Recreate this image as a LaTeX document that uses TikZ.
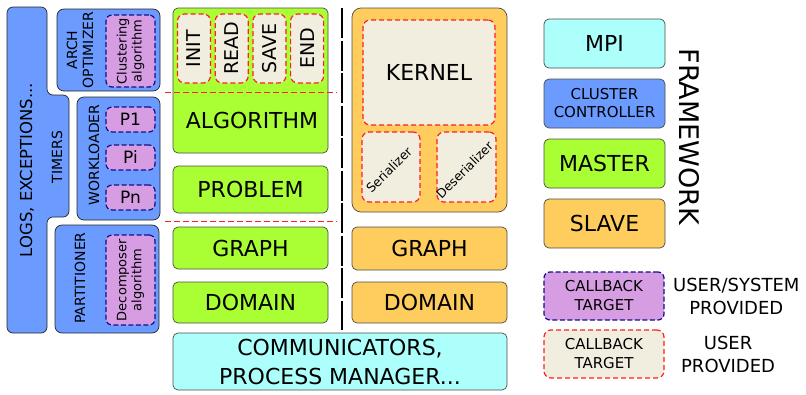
\documentclass[tikz,border=0pt]{standalone}
\usepackage{fontspec}
\setmainfont{DejaVu Sans}
\usetikzlibrary{positioning,calc}
\definecolor{toolblue}{HTML}{6B9BFF}
\definecolor{sysviolet}{HTML}{D79DE3}
\definecolor{mastergreen}{HTML}{A9FF33}
\definecolor{slaveorange}{HTML}{FFCC5E}
\definecolor{commcyan}{HTML}{ADFFFB}
\definecolor{userbeige}{HTML}{F1EEE0}
\definecolor{cbred}{HTML}{FF2020}
\definecolor{cbnavy}{HTML}{10108A}
\newcommand{\fs}[2]{\fontsize{#1}{#2}\selectfont}

\begin{document}
\begin{tikzpicture}[
  x=1pt,y=-1pt,
  node distance=11pt,
  layer/.style={draw=black!70,line width=0.7pt,rounded corners=5pt,
                inner sep=0pt,outer sep=0pt,align=center,font=\fs{22}{29}},
  green/.style={layer,fill=mastergreen,minimum width=155pt,minimum height=#1},
  orange/.style={layer,fill=slaveorange,minimum width=155pt,minimum height=#1},
  frame/.style={layer,minimum width=121pt,minimum height=49pt},
  tool/.style={draw=black!85,line width=0.7pt,fill=toolblue,rounded corners=7pt,
               inner sep=0pt,outer sep=0pt},
  syscb/.style={draw=cbnavy,line width=1.2pt,dash pattern=on 5pt off 2.5pt,
                fill=sysviolet,rounded corners=6pt,inner sep=0pt,align=center},
  usercb/.style={draw=cbred,line width=1.2pt,dash pattern=on 5pt off 3pt,
                 fill=userbeige,rounded corners=7pt,inner sep=0pt,align=center},
  vlabel/.style={rotate=90,align=center,inner sep=0pt,font=\fs{14}{16}}
]
  \useasboundingbox (0,0) rectangle (806,394);

  % tools column on the left
  \draw[draw=black!85,line width=0.7pt,fill=toolblue,rounded corners=6pt]
    (7,7) -- (47,7) -- (47,95) -- (69,95) -- (69,217) -- (47,217)
    -- (47,333) -- (7,333) -- cycle;
  \node[vlabel,font=\fs{16.5}{19}] (logs) at (27,170) {LOGS, EXCEPTIONS...};
  \node[vlabel] (timers) at (57,157) {TIMERS};

  \node[tool,minimum width=103pt,minimum height=82pt] (arch) at (108.5,50) {};
  \node[vlabel] (archtxt) at (80,50) {ARCH\\OPTIMIZER};
  \node[syscb,minimum width=49pt,minimum height=72pt] (clus) at (130.5,51) {};
  \node[vlabel,font=\fs{13}{15}] at (clus) {Clustering\\algorithm};

  \node[tool,minimum width=83pt,minimum height=123pt] (work) at (118.5,158.5) {};
  \node[vlabel] (worktxt) at (94,155) {WORKLOADER};
  \foreach \p/\y in {P1/119.5,Pi/157.5,Pn/197.5}
    \node[syscb,minimum width=49pt,minimum height=25pt,font=\fs{17}{20}]
      (w\p) at (130.5,\y) {\p};

  \node[tool,minimum width=104pt,minimum height=108pt] (part) at (107,279) {};
  \node[vlabel] (parttxt) at (80,278) {PARTITIONER};
  \node[syscb,minimum width=49pt,minimum height=90pt] (decomp) at (130.5,280) {};
  \node[vlabel,font=\fs{13}{15}] at (decomp) {Decomposer\\algorithm};

  % master side
  \node[green=145pt] (alg) at (250.5,80.5) {};
  \foreach \n [count=\i] in {INIT,READ,SAVE,END} {
    \node[usercb,minimum width=33pt,minimum height=69pt]
      (cb\i) at (194+37.7*\i-37.7,48.5) {};
    \node[rotate=90,font=\fs{19}{22},inner sep=0pt] at (cb\i) {\n};
  }
  \node[font=\fs{22}{26}] (algtxt) at (252,120) {ALGORITHM};
  \node[green=47pt] (prob) at (250.5,189.5) {PROBLEM};
  \node[green=42pt] (mgraph) at (250.5,248) {GRAPH};
  \node[green=41pt] (mdom) at (250.5,302.5) {DOMAIN};

  % slave side
  \node[orange=204pt,rounded corners=9pt] (kbox) at (429.5,110) {};
  \node[usercb,minimum width=132pt,minimum height=105pt,font=\fs{22}{26}]
    (kernel) at (429,72.5) {KERNEL};
  \node[usercb,minimum width=58pt,minimum height=70pt] (ser) at (391,167) {};
  \node[usercb,minimum width=59pt,minimum height=70pt] (deser) at (466.5,167) {};
  \node[rotate=45,font=\fs{12.5}{14},inner sep=0pt] at ($(ser)+(-2,3)$) {Serializer};
  \node[rotate=45,font=\fs{12.5}{14},inner sep=0pt] at ($(deser)+(-2,3)$) {Deserializer};
  \node[orange=43pt] (sgraph) at (429.5,248.5) {GRAPH};
  \node[orange=41pt] (sdom) at (429.5,302.5) {DOMAIN};

  \node[layer,fill=commcyan,minimum width=334pt,minimum height=57pt]
    (comm) at (340,361.5) {COMMUNICATORS,\\PROCESS MANAGER...};

  % separators
  \draw[black,line width=1.6pt,dash pattern=on 30pt off 2.5pt] (342,8) -- (342,330);
  \draw[cbred,line width=0.6pt,dash pattern=on 6pt off 3pt] (165,92) -- (337,92);
  \draw[cbred,line width=0.6pt,dash pattern=on 6pt off 3pt] (165,221) -- (337,221);

  % framework legend
  \node[frame,fill=commcyan] (mpi) at (604.5,43.5) {MPI};
  \node[frame,fill=toolblue,font=\fs{15}{18},below=of mpi] (ctrl) {CLUSTER\\CONTROLLER};
  \node[frame,fill=mastergreen,below=of ctrl] (master) {MASTER};
  \node[frame,fill=slaveorange,below=of master] (slave) {SLAVE};
  \node[rotate=-90,font=\fs{27}{30},inner sep=0pt] (fw) at (689,137) {FRAMEWORK};

  \node[syscb,minimum width=120pt,minimum height=48pt,font=\fs{15}{19}]
    (legsys) at (604,296) {CALLBACK\\TARGET};
  \node[usercb,minimum width=120pt,minimum height=48pt,font=\fs{15}{19}]
    (leguser) at (604,354) {CALLBACK\\TARGET};
  \node[font=\fs{18}{23},align=center,right=5pt of legsys] (legsystxt)
    {USER/SYSTEM\\PROVIDED};
  \node[font=\fs{18}{23},align=center,right=13pt of leguser] (legusertxt)
    {USER\\PROVIDED};
\end{tikzpicture}
\end{document}
